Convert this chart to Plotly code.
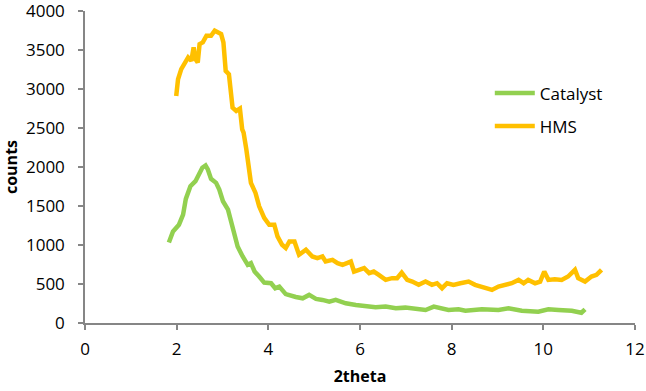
import plotly.graph_objects as go

catalyst_x = [1.83, 1.92, 2.05, 2.14, 2.20, 2.30, 2.41, 2.48, 2.56, 2.63, 2.68, 2.75, 2.86, 2.93,
              3.01, 3.12, 3.19, 3.26, 3.33, 3.44, 3.55, 3.62, 3.70, 3.80, 3.91, 4.06, 4.15, 4.24,
              4.38, 4.60, 4.75, 4.89, 5.04, 5.18, 5.33, 5.47, 5.69, 5.91, 6.12, 6.34, 6.56, 6.78,
              6.99, 7.21, 7.43, 7.61, 7.79, 7.93, 8.15, 8.30, 8.66, 9.02, 9.24, 9.53, 9.89, 10.11,
              10.33, 10.62, 10.83, 10.91]
catalyst_y = [1033, 1174, 1260, 1389, 1591, 1753, 1818, 1903, 1990, 2019, 1968, 1848, 1797, 1711,
              1561, 1453, 1282, 1132, 981, 853, 746, 768, 660, 596, 518, 510, 446, 467,
              370, 334, 317, 360, 309, 296, 274, 296, 253, 231, 219, 202, 210, 189,
              197, 176, 167, 210, 189, 167, 176, 158, 176, 167, 189, 158, 145, 176,
              167, 158, 132, 176]

hms_x = [1.99, 2.03, 2.10, 2.17, 2.25, 2.32, 2.37, 2.41, 2.46, 2.50, 2.57, 2.65, 2.75, 2.83,
         2.90, 2.97, 3.02, 3.07, 3.14, 3.19, 3.22, 3.30, 3.38, 3.43, 3.46, 3.52, 3.57, 3.62,
         3.72, 3.80, 3.91, 4.02, 4.13, 4.20, 4.30, 4.38, 4.46, 4.57, 4.67, 4.82, 4.96, 5.07,
         5.18, 5.25, 5.40, 5.51, 5.62, 5.80, 5.87, 5.98, 6.09, 6.20, 6.30, 6.41, 6.56, 6.70,
         6.81, 6.91, 7.03, 7.14, 7.28, 7.43, 7.57, 7.68, 7.79, 7.90, 8.04, 8.19, 8.37, 8.51,
         8.66, 8.88, 9.02, 9.17, 9.31, 9.46, 9.57, 9.67, 9.82, 9.93, 10.02, 10.11, 10.25, 10.40,
         10.54, 10.69, 10.76, 10.91, 11.05, 11.16, 11.27]
hms_y = [2911, 3125, 3254, 3340, 3405, 3361, 3533, 3383, 3340, 3576, 3597, 3683, 3683, 3747,
         3726, 3704, 3597, 3232, 3190, 2954, 2761, 2718, 2748, 2482, 2440, 2225, 2010, 1797,
         1668, 1496, 1347, 1260, 1260, 1110, 1003, 961, 1046, 1046, 875, 939, 853, 832,
         853, 788, 810, 768, 746, 788, 660, 682, 704, 639, 660, 617, 553, 575,
         575, 647, 553, 531, 489, 531, 489, 510, 446, 510, 489, 510, 531, 489,
         467, 424, 467, 489, 510, 553, 510, 553, 510, 531, 660, 553, 562, 553,
         596, 682, 575, 531, 596, 617, 682]

x_ticks = [0, 2, 4, 6, 8, 10, 12]
y_ticks = [0, 500, 1000, 1500, 2000, 2500, 3000, 3500, 4000]

FONT = "Open Sans"
AXIS_COLOR = "#868686"

fig = go.Figure()
fig.add_trace(go.Scatter(x=catalyst_x, y=catalyst_y, mode="lines", name="Catalyst",
                         line=dict(color="#92D050", width=4.5), legend="legend", showlegend=True))
fig.add_trace(go.Scatter(x=hms_x, y=hms_y, mode="lines", name="HMS",
                         line=dict(color="#FFC000", width=4.5), legend="legend2", showlegend=True))

legend_common = dict(font=dict(family=FONT, size=17, color="#000000"),
                     bgcolor="rgba(0,0,0,0)", xanchor="left", yanchor="middle",
                     itemwidth=40, visible=True)
fig.update_layout(
    width=646, height=391,
    showlegend=True,
    margin=dict(l=85, r=11, t=11, b=68, autoexpand=False),
    paper_bgcolor="white", plot_bgcolor="white",
    font=dict(family=FONT, size=16, color="#000000"),
    legend=dict(x=0.736, y=0.736, **legend_common),
    legend2=dict(x=0.736, y=0.630, **legend_common),
    xaxis=dict(range=[0, 12], tickvals=x_ticks, ticktext=[str(v) for v in x_ticks],
               automargin=False,
               showgrid=False, zeroline=False, showline=True, linecolor=AXIS_COLOR, linewidth=1.5,
               ticks="outside", ticklen=5, tickcolor=AXIS_COLOR, tickwidth=1.5,
               tickfont=dict(family=FONT, size=17), ticklabelstandoff=5,
               ticklabeloverflow="allow",
               title=dict(text="<b>2theta</b>", font=dict(family=FONT, size=16), standoff=12)),
    yaxis=dict(range=[0, 4000], tickvals=y_ticks, ticktext=[str(v) for v in y_ticks],
               automargin=False,
               showgrid=False, zeroline=False, showline=True, linecolor=AXIS_COLOR, linewidth=1.5,
               ticks="outside", ticklen=5, tickcolor=AXIS_COLOR, tickwidth=1.5,
               tickfont=dict(family=FONT, size=17), ticklabelstandoff=10,
               ticklabeloverflow="allow",
               title=dict(text="<b>counts</b>", font=dict(family=FONT, size=16), standoff=8)),
)

fig.write_html("out.html", config={"displayModeBar": False},
               post_script="document.body.style.margin='0';document.body.style.padding='0';")
